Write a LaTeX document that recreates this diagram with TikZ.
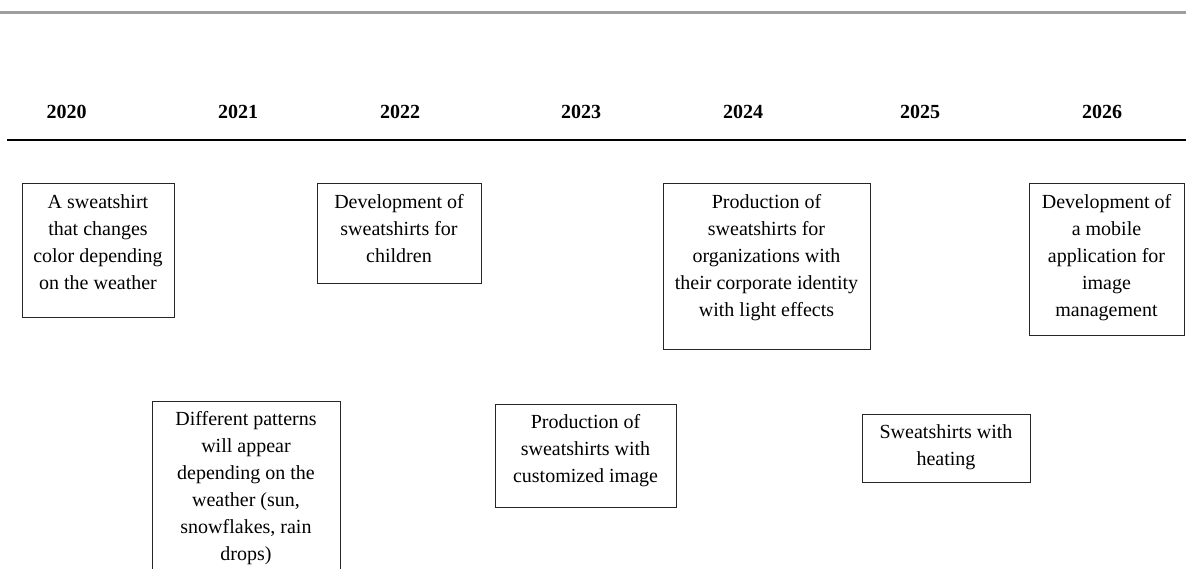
\documentclass[tikz,border=0pt]{standalone}
\usepackage{fontspec}
\setmainfont{Liberation Serif}
\usetikzlibrary{positioning}

\tikzset{
  year/.style={font=\fontsize{20}{24}\selectfont\bfseries, anchor=base, inner sep=0pt},
  plan/.style={draw=black!85, line width=1pt, inner sep=0pt},
  plantext/.style={font=\fontsize{20}{27}\selectfont, align=center, inner sep=0pt}
}

\begin{document}
\begin{tikzpicture}[x=1pt,y=-1pt]
\useasboundingbox (0,0) rectangle (1186,569);
% rules
\coordinate (topL) at (0,12.5);
\coordinate (topR) at (1186,12.5);
\draw[line width=3pt, black!38] (topL) -- (topR);
\coordinate (axisL) at (7,140);
\coordinate (axisR) at (1186,140);
\draw[line width=1.4pt] (axisL) -- (axisR);
% years
\foreach \yr/\xx in {2020/66.5, 2021/238, 2022/400, 2023/581, 2024/743, 2025/920, 2026/1102}
  \node[year] (y\yr) at (\xx,119) {\yr};
% boxes
\node[plan, minimum width=152pt, minimum height=134pt] (b2020) at (98,251) {};
\node[plantext, below=11pt of b2020.north] (t2020) {A sweatshirt\\that changes\\color depending\\on the weather};
\node[plan, minimum width=164pt, minimum height=100pt] (b2022) at (399,234) {};
\node[plantext, below=11pt of b2022.north] (t2022) {Development of\\sweatshirts for\\children};
\node[plan, minimum width=207pt, minimum height=165pt] (b2024) at (766.5,266.5) {};
\node[plantext, below=11pt of b2024.north] (t2024) {Production of\\sweatshirts for\\organizations with\\their corporate identity\\with light effects};
\node[plan, minimum width=155pt, minimum height=151pt] (b2026) at (1106.5,259.5) {};
\node[plantext, below=11pt of b2026.north] (t2026) {Development of\\a mobile\\application for\\image\\management};
\node[plan, minimum width=188pt, minimum height=176pt] (b2021) at (246,489) {};
\node[plantext, below=11pt of b2021.north] (t2021) {Different patterns\\will appear\\depending on the\\weather (sun,\\snowflakes, rain\\drops)};
\node[plan, minimum width=181pt, minimum height=103pt] (b2023) at (585.5,455.5) {};
\node[plantext, below=11pt of b2023.north] (t2023) {Production of\\sweatshirts with\\customized image};
\node[plan, minimum width=168pt, minimum height=68pt] (b2025) at (946,448) {};
\node[plantext, below=11pt of b2025.north] (t2025) {Sweatshirts with\\heating};
\end{tikzpicture}
\end{document}
